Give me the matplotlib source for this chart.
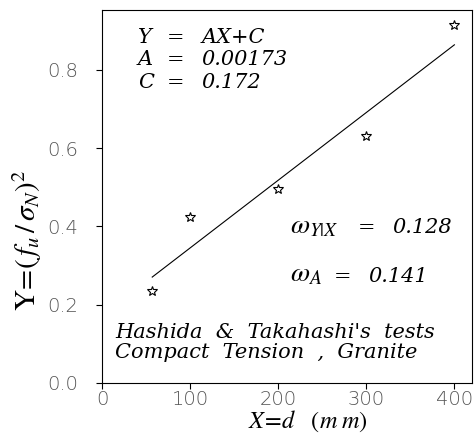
import numpy as np
import matplotlib
matplotlib.use("Agg")
import matplotlib.pyplot as plt

# size d (mm) and Y = (f_u / sigma_N)^2
d_mm = [57, 100, 200, 300, 400]
y_vals = [0.236, 0.425, 0.496, 0.632, 0.914]

# regression constants shown on the chart
A = 0.00173
C = 0.172
w_yx = 0.128
w_a = 0.141

x_ticks = [0, 100, 200, 300, 400]
y_ticks = [0.0, 0.2, 0.4, 0.6, 0.8]

plt.rcParams["mathtext.fontset"] = "stix"

fig = plt.figure(figsize=(4.74, 4.36), dpi=100)
ax = fig.add_axes([0.2152, 0.1216, 0.7806, 0.8555])

xfit = np.array([min(d_mm), max(d_mm)])
ax.plot(xfit, A * xfit + C, color="black", lw=0.8)
ax.plot(d_mm, y_vals, linestyle="none", marker="*", markersize=7,
        markerfacecolor="white", markeredgecolor="black", markeredgewidth=0.8)

ax.set_xlim(0, 420)
ax.set_ylim(0, 0.953)
ax.set_xticks(x_ticks)
ax.set_yticks(y_ticks)
ax.set_xticklabels([str(v) for v in x_ticks])
ax.set_yticklabels([f"{v:.1f}" for v in y_ticks])
ax.tick_params(direction="out", length=4, width=0.8, labelsize=14,
               labelcolor="#555555")
ax.tick_params(axis="y", pad=13)
ax.tick_params(axis="x", pad=1)
for lab in ax.get_xticklabels() + ax.get_yticklabels():
    lab.set_fontweight("light")
for sp in ax.spines.values():
    sp.set_linewidth(0.8)

ax.set_xlabel(r"$X\!=\!d\quad(m\;m)$", fontsize=17.5)
ax.xaxis.set_label_coords(0.557, -0.069)
ax.set_ylabel(r"$\mathrm{Y}\!=\!(\,f_u\,/\,\sigma_N)^2$", fontsize=21)
ax.yaxis.set_label_coords(-0.157, 0.383)

tf = dict(family="DejaVu Serif", style="italic", fontsize=15,
          transform=ax.transAxes, va="baseline")
mf = dict(fontsize=20, transform=ax.transAxes, va="baseline")

rows = [("Y", "AX+C", 0.912), ("A", f"{A:.5f}", 0.853), ("C", f"{C:.3f}", 0.791)]
for name, val, yb in rows:
    ax.text(0.097, yb, name, ha="left", **tf)
    ax.text(0.200, yb, "=", ha="center", **tf)
    ax.text(0.268, yb, val, ha="left", **tf)

ax.text(0.508, 0.402, r"$\omega_{Y|X}$", ha="left", **mf)
ax.text(0.716, 0.402, "=", ha="center", **tf)
ax.text(0.786, 0.402, f"{w_yx:.3f}", ha="left", **tf)
ax.text(0.508, 0.271, r"$\omega_{A}$", ha="left", **mf)
ax.text(0.651, 0.271, "=", ha="center", **tf)
ax.text(0.719, 0.271, f"{w_a:.3f}", ha="left", **tf)

ax.text(0.035, 0.121, "Hashida  &  Takahashi's  tests", ha="left", **tf)
ax.text(0.035, 0.067, "Compact  Tension  ,  Granite", ha="left", **tf)

fig.savefig("out.png", dpi=100)
